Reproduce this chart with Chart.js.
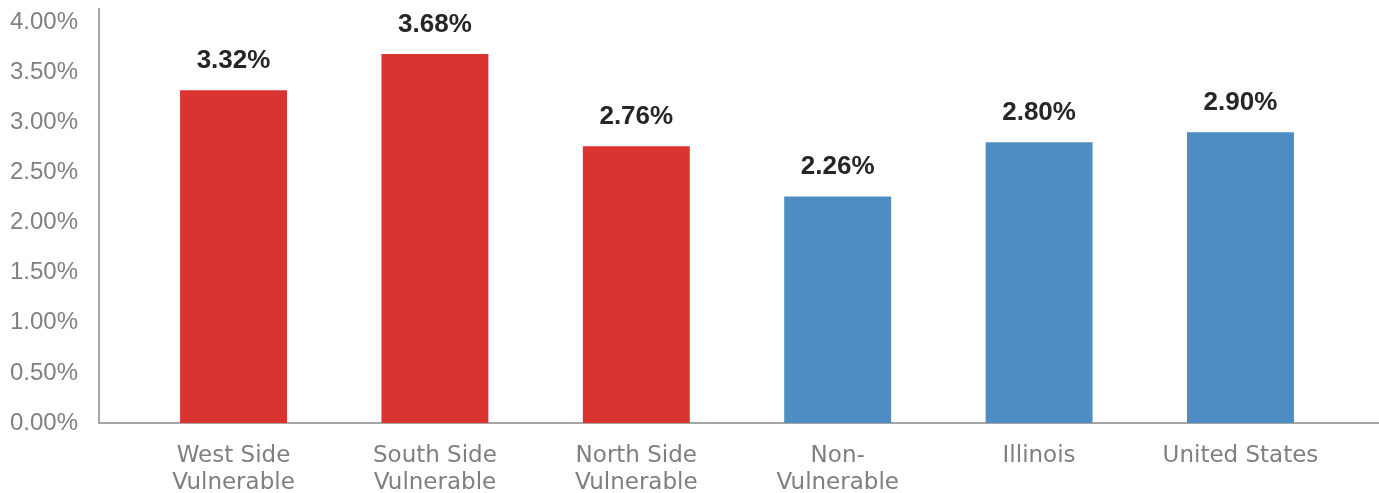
<!DOCTYPE html>
<html>
<head>
<meta charset="utf-8">
<script src="https://cdn.jsdelivr.net/npm/chart.js@4/dist/chart.umd.min.js"></script>
<style>
  html, body { margin: 0; padding: 0; background: #fff; }
  .chart-box { position: relative; width: 1379px; height: 493px; }
</style>
</head>
<body>
<div class="chart-box"><canvas class="js-chart"></canvas></div>
<script>
// categories (multi-line labels) and unemployment-style rates, in percent
const categories = [
  ['West Side', 'Vulnerable'],
  ['South Side', 'Vulnerable'],
  ['North Side', 'Vulnerable'],
  ['Non-', 'Vulnerable'],
  ['Illinois'],
  ['United States'],
];
const rates = [3.32, 3.68, 2.76, 2.26, 2.8, 2.9];
const barColors = ['#DA3430', '#DA3430', '#DA3430', '#4E8DC3', '#4E8DC3', '#4E8DC3'];
const yTicks = [0, 0.5, 1, 1.5, 2, 2.5, 3, 3.5, 4];

const labelFont = '"DejaVu Sans"';

// value labels above each bar
const valueLabels = {
  id: 'valueLabels',
  afterDatasetsDraw(chart) {
    const ctx = chart.ctx;
    const meta = chart.getDatasetMeta(0);
    ctx.save();
    ctx.font = 'bold 26px "Liberation Sans", Arial, sans-serif';
    ctx.fillStyle = '#262626';
    ctx.textAlign = 'center';
    ctx.textBaseline = 'alphabetic';
    meta.data.forEach((bar, i) => {
      ctx.fillText(rates[i].toFixed(2) + '%', bar.x, bar.y - 22);
    });
    ctx.restore();
  },
};

function renderChart() {
  const ctx = document.querySelector('.js-chart').getContext('2d');

  new Chart(ctx, {
    type: 'bar',
    data: {
      datasets: [
        {
          data: rates.map((v, i) => ({ x: i, y: v })),
          backgroundColor: barColors,
          borderWidth: 0,
          categoryPercentage: 1,
          barPercentage: 0.531,
        },
      ],
    },
    options: {
      responsive: true,
      maintainAspectRatio: false,
      animation: false,
      layout: { padding: { top: 9, right: 1, left: 0, bottom: 0 } },
      plugins: {
        legend: { display: false },
        tooltip: { enabled: false },
      },
      scales: {
        x: {
          type: 'linear',
          offset: false,
          min: -0.668,
          max: 5.683,
          grid: { display: false, drawTicks: false },
          border: { display: true, color: '#A6A6A6', width: 2 },
          ticks: {
            stepSize: 1,
            includeBounds: false,
            autoSkip: false,
            maxRotation: 0,
            padding: 20,
            color: '#7F7F7F',
            font: { family: labelFont + ', sans-serif', size: 23, lineHeight: 1.17 },
            callback: value => categories[value],
          },
          afterFit(scale) {
            scale.height = 70;
            scale.paddingLeft = 0;
            scale.paddingRight = 0;
          },
        },
        y: {
          min: 0,
          max: 4.13,
          afterBuildTicks(scale) {
            scale.ticks = yTicks.map(v => ({ value: v }));
          },
          grid: { display: false, drawTicks: false },
          border: { display: true, color: '#A6A6A6', width: 2 },
          ticks: {
            padding: 21,
            color: '#808080',
            font: { family: '"Liberation Sans", Arial, sans-serif', size: 24 },
            callback: value => value.toFixed(2) + '%',
          },
          afterFit(scale) {
            scale.width = 99;
            scale.paddingTop = 0;
            scale.paddingBottom = 0;
          },
        },
      },
    },
    plugins: [valueLabels],
  });
}

document.fonts.load('23px ' + labelFont).then(renderChart, renderChart);
</script>
</body>
</html>
